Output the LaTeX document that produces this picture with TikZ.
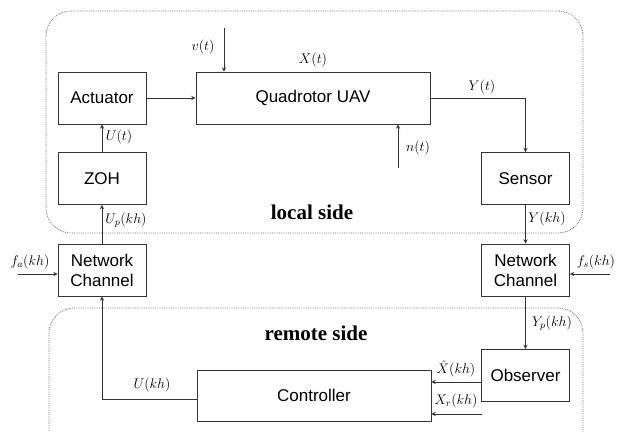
\documentclass[tikz,border=0pt]{standalone}
\usepackage{fix-cm}
\usepackage{fontspec}
\newfontfamily\boxfont{Liberation Sans}
\newfontfamily\sidefont{Liberation Serif}
\usepackage{tikz}
\usetikzlibrary{calc}
\tikzset{>=stealth}
\tikzset{
  blk/.style={draw=black!80, line width=0.9pt, font=\boxfont\fontsize{17}{20}\selectfont, align=center, minimum width=88pt, minimum height=52pt, inner sep=2pt},
  sig/.style={font=\fontsize{14}{16}\selectfont, inner sep=1pt},
  side/.style={draw=black!55, densely dotted, line width=0.8pt, rounded corners=25pt},
  sidelab/.style={font=\sidefont\bfseries\fontsize{21}{24}\selectfont},
  wire/.style={->, draw=black!80, line width=0.9pt}
}

\begin{document}
\begin{tikzpicture}[x=1pt, y=-1pt]
        \clip (0,0) rectangle (620,431);
        \fill[white] (0,0) rectangle (620,431);

        \draw[side] (46,11) rectangle (583,233);
        \draw[side] (49,308) rectangle (583,460);
        \node[sidelab] (loc) at (312,212) {local side};
        \node[sidelab] (rem) at (316,333) {remote side};

        \node[blk] (act) at (102,98) {Actuator};
        \node[blk] (zoh) at (102,178.5) {ZOH};
        \node[blk, minimum width=234pt] (uav) at (313,98) {Quadrotor UAV};
        \node[blk] (sen) at (525.5,178.5) {Sensor};
        \node[blk] (ncl) at (102,270) {Network\\Channel};
        \node[blk] (ncr) at (525.5,270) {Network\\Channel};
        \node[blk] (obs) at (525.5,375.5) {Observer};
        \node[blk, minimum width=234pt, minimum height=51pt] (ctrl) at (314,395.5) {Controller};

        \coordinate (vin) at (224,28);
        \coordinate (nin) at (398,168);
        \coordinate (fa) at (18,274);
        \coordinate (fs) at (610,274);
        \coordinate (xh) at (482,382);
        \coordinate (xr) at (482,414);
        \coordinate (uo) at (197,399);

        \draw[wire] (act.east) -- (uav.west);
        \draw[wire] (zoh) -- (act);
        \draw[wire] (ncl) -- (zoh);
        \draw[wire] (ctrl.west |- uo) -| (ncl.south);
        \draw[wire] (uav.east) -| (sen.north);
        \draw[wire] (sen) -- (ncr);
        \draw[wire] (ncr) -- (obs);
        \draw[wire] (vin) -- (vin |- uav.north);
        \draw[wire] (nin) -- (nin |- uav.south);
        \draw[wire] (fa) -- (fa -| ncl.west);
        \draw[wire] (fs) -- (fs -| ncr.east);
        \draw[wire] (obs.west |- xh) -- (ctrl.east |- xh);
        \draw[wire] (xr) -- (xr -| ctrl.east);

        \node[sig] (lv) at (203,47) {$v(t)$};
        \node[sig] (lx) at (313,60) {$X(t)$};
        \node[sig] (lu) at (119,137) {$U(t)$};
        \node[sig] (ly) at (482,87) {$Y(t)$};
        \node[sig] (ln) at (418,148) {$n(t)$};
        \node[sig] (lup) at (126,220) {$U_p(kh)$};
        \node[sig] (lfa) at (30,262) {$f_a(kh)$};
        \node[sig] (lykh) at (547,219) {$Y(kh)$};
        \node[sig] (lfs) at (596,262) {$f_s(kh)$};
        \node[sig] (lyp) at (552,323) {$Y_p(kh)$};
        \node[sig] (lukh) at (152,385) {$U(kh)$};
        \node[sig] (lxh) at (456,369) {$\hat{X}(kh)$};
        \node[sig] (lxr) at (456,401) {$X_r(kh)$};
    \end{tikzpicture}
\end{document}
